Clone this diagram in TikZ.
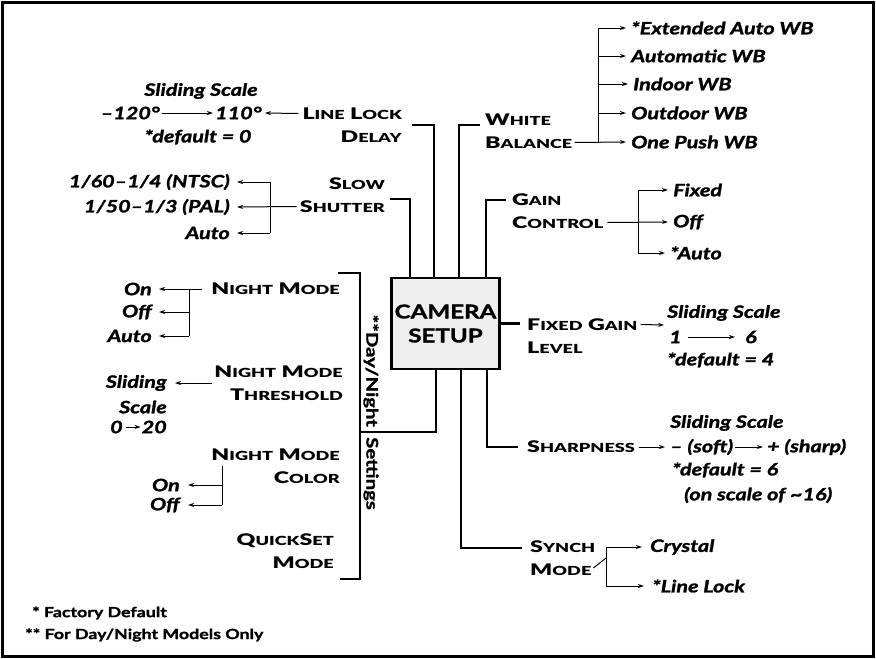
\documentclass[tikz,border=0pt]{standalone}
\usepackage{fontspec}
\setmainfont{Lato}
\newfontfamily\hdrfont{Lato}[FakeStretch=1.45, BoldFont={* Black}]
\newfontfamily\optfont{Lato}[FakeStretch=1.27, BoldFeatures={FakeBold=1.5}, BoldItalicFeatures={FakeBold=1.5}]
\usetikzlibrary{arrows.meta,positioning}

\newcommand{\sca}[2]{#1{\fontsize{12.5}{12.5}\selectfont #2}}

\begin{document}
\begin{tikzpicture}[x=1pt, y=-1pt,
    hdr/.style={inner sep=0pt, font=\hdrfont\fontsize{16}{23}\selectfont\bfseries},
    opt/.style={inner sep=0pt, font=\optfont\fontsize{17}{20}\selectfont\bfseries\itshape},
    note/.style={inner sep=0pt, anchor=west, font=\optfont\fontsize{14}{16}\selectfont\bfseries},
    daynight/.style={rotate=-90, inner sep=0pt, font=\optfont\fontsize{16}{16}\selectfont\bfseries},
    camera/.style={rectangle, draw, line width=2.4pt, fill=gray!13,
                   minimum width=105pt, minimum height=91pt, align=center,
                   font=\optfont\fontsize{19}{24}\selectfont\bfseries},
    conn/.style={line width=2.6pt},
    twig/.style={line width=1pt},
    link/.style={twig, -{Stealth[length=6pt,width=4pt]}}
]
    \useasboundingbox (0,0) rectangle (876,659);
    \draw[line width=2.5pt] (2.5,2.5) rectangle (873.5,656.5);

    \node[camera] (cam) at (445.5,323.5) {CAMERA\\SETUP};

    % Line lock delay
    \node[hdr, anchor=east, align=right] (lld) at (402,125) {\sca{L}{INE} \sca{L}{OCK}\\\sca{D}{ELAY}};
    \node[opt]              (lldtop) at (201,91)  {Sliding Scale};
    \node[opt, anchor=east] (lldlo)  at (160,113) {–120°};
    \node[opt, anchor=west] (lldhi)  at (215,113) {110°};
    \node[opt]              (llddef) at (198,137) {*default = 0};
    \draw[conn] ([xshift=10pt]lld.east) -| ([xshift=-11.5pt]cam.north);
    \draw[link] ([xshift=-4pt,yshift=11.5pt]lld.west) -- ([xshift=3pt]lldhi.east);
    \draw[link] ([xshift=2pt]lldlo.east) -- ([xshift=-2pt]lldhi.west);

    % Slow shutter
    \node[hdr, anchor=east, align=right] (ss) at (385,195) {\sca{S}{LOW}\\\sca{S}{HUTTER}};
    \node[opt, anchor=east] (ss1) at (230,182) {1/60–1/4 (NTSC)};
    \node[opt, anchor=east] (ss2) at (230,207) {1/50–1/3 (PAL)};
    \node[opt, anchor=east] (ss3) at (230,233) {Auto};
    \draw[conn] ([xshift=5pt,yshift=-4pt]ss.east) -| ([xshift=-35.5pt]cam.north);
    \draw[link] ([xshift=-3pt,yshift=-11.5pt]ss.west) -- ([xshift=7pt]ss2.east);
    \draw[twig] (270,0 |- ss1.east) -- (270,0 |- ss3.east);
    \foreach \n in {1,3}
        \draw[link] (270,0 |- ss\n.east) -- ([xshift=7pt]ss\n.east);

    % White balance
    \node[hdr, anchor=west, align=left] (wb) at (485,131) {\sca{W}{HITE}\\\sca{B}{ALANCE}};
    \node[opt, anchor=west] (wb1) at (631,28)  {*Extended Auto WB};
    \node[opt, anchor=west] (wb2) at (631,56)  {Automatic WB};
    \node[opt, anchor=west] (wb3) at (633,84)  {Indoor WB};
    \node[opt, anchor=west] (wb4) at (631,113) {Outdoor WB};
    \node[opt, anchor=west] (wb5) at (631,142) {One Push WB};
    \draw[conn] ([xshift=-5pt,yshift=6pt]wb.west) -| ([xshift=13.5pt]cam.north);
    \draw[link] ([xshift=2pt,yshift=-11.5pt]wb.east) -- ([xshift=-5pt]wb5.west);
    \draw[twig] (598,0 |- wb1.west) -- (598,0 |- wb5.west);
    \foreach \n in {1,...,4}
        \draw[link] (598,0 |- wb\n.west) -- ([xshift=-5pt]wb\n.west);

    % Gain control
    \node[hdr, anchor=west, align=left] (gc) at (512,211) {\sca{G}{AIN}\\\sca{C}{ONTROL}};
    \node[opt, anchor=west] (gc1) at (673,190) {Fixed};
    \node[opt, anchor=west] (gc2) at (673,222) {Off};
    \node[opt, anchor=west] (gc3) at (670,253) {*Auto};
    \draw[conn] ([xshift=-6pt,yshift=11pt]gc.west) -| ([xshift=40.5pt]cam.north);
    \draw[link] ([xshift=4pt,yshift=-11.5pt]gc.east) -- ([xshift=-5pt]gc2.west);
    \draw[twig] (638,0 |- gc1.west) -- (638,0 |- gc3.west);
    \foreach \n in {1,3}
        \draw[link] (638,0 |- gc\n.west) -- ([xshift=-5pt]gc\n.west);

    % Fixed gain level
    \node[hdr, anchor=west, align=left] (fg) at (527,336) {\sca{F}{IXED} \sca{G}{AIN}\\\sca{L}{EVEL}};
    \node[opt, anchor=west] (fg1)  at (667,313) {Sliding Scale};
    \node[opt, anchor=west] (fglo) at (669,337) {1};
    \node[opt, anchor=west] (fghi) at (745,337) {6};
    \node[opt, anchor=west] (fg3)  at (667,360) {*default = 4};
    \draw[conn, shorten >=7pt] (cam.east) -- (cam.east -| fg.west);
    \draw[link] ([xshift=3pt,yshift=11.5pt]fg.east) -- ([xshift=-3pt,yshift=-12pt]fg1.west);
    \draw[link] ([xshift=6pt]fglo.east) -- ([xshift=-10pt]fghi.west);

    % Sharpness
    \node[hdr, anchor=west] (sh) at (527,447) {\sca{S}{HARPNESS}};
    \node[opt, anchor=west] (sh1)  at (670,423) {Sliding Scale};
    \node[opt, anchor=west] (shlo) at (670,447) {– (soft)};
    \node[opt, anchor=west] (shhi) at (767,447) {+ (sharp)};
    \node[opt, anchor=west] (sh3)  at (672,470) {*default = 6};
    \node[opt, anchor=west] (sh4)  at (684,495) {(on scale of \textasciitilde 16)};
    \draw[conn] ([xshift=-9pt]sh.west) -| ([xshift=41.5pt]cam.south);
    \draw[link] ([xshift=4pt]sh.east) -- ([xshift=-5pt]shlo.west);
    \draw[link] ([xshift=2pt]shlo.east) -- ([xshift=-4pt]shhi.west);

    % Synch mode
    \node[hdr, anchor=west, align=left] (sm) at (530,558) {\sca{S}{YNCH}\\\sca{M}{ODE}};
    \node[opt, anchor=west] (sm1) at (650,547) {Crystal};
    \node[opt, anchor=west] (sm2) at (652,586) {*Line Lock};
    \draw[conn] ([xshift=-8pt,yshift=10pt]sm.west) -| ([xshift=15.5pt]cam.south);
    \draw[twig] ([xshift=-2pt,yshift=-10pt]sm.east) -- (606,0 |- sm.east);
    \draw[twig] (606,0 |- sm1.west) -- (606,0 |- sm2.west);
    \foreach \n in {1,2}
        \draw[link] (606,0 |- sm\n.west) -- ([xshift=-8pt]sm\n.west);

    % Day/Night settings
    \coordinate (dntop)  at (338,273);
    \coordinate (dnbot)  at (340,579);
    \coordinate (dnjoin) at (360,432);
    \draw[conn] (dntop) -| (360,0 |- dnbot) -- (dnbot);
    \draw[conn] ([xshift=-9.5pt]cam.south) |- (dnjoin);
    \node[daynight, anchor=east] (dn1) at (371,427) {**Day/Night};
    \node[daynight, anchor=west] (dn2) at (371,437) {Settings};

    % Night mode
    \node[hdr, anchor=east] (nm) at (340,289) {\sca{N}{IGHT} \sca{M}{ODE}};
    \node[opt, anchor=east] (nm1) at (152,289) {On};
    \node[opt, anchor=east] (nm2) at (152,312) {Off};
    \node[opt, anchor=east] (nm3) at (152,336) {Auto};
    \draw[link] ([xshift=-9pt]nm.west) -- ([xshift=7pt]nm1.east);
    \draw[twig] (189,0 |- nm1.east) -- (189,0 |- nm3.east);
    \foreach \n in {2,3}
        \draw[link] (189,0 |- nm\n.east) -- ([xshift=7pt]nm\n.east);

    % Night mode threshold
    \node[hdr, anchor=east, align=right] (nt) at (343,383) {\sca{N}{IGHT} \sca{M}{ODE}\\\sca{T}{HRESHOLD}};
    \node[opt, anchor=east] (nt1)  at (167,383) {Sliding};
    \node[opt, anchor=east] (nt2)  at (167,407) {Scale};
    \node[opt, anchor=west] (ntlo) at (110,427) {0};
    \node[opt, anchor=east] (nthi) at (167,427) {20};
    \draw[link] ([xshift=-2pt]nt.west) -- ([xshift=8pt]nt1.east);
    \draw[link] ([xshift=3pt]ntlo.east) -- ([xshift=-1pt]nthi.west);

    % Night mode color
    \node[hdr, anchor=east, align=right] (nc) at (340,466) {\sca{N}{IGHT} \sca{M}{ODE}\\\sca{C}{OLOR}};
    \node[opt, anchor=east] (nc1) at (180,485) {On};
    \node[opt, anchor=east] (nc2) at (180,505) {Off};
    \draw[twig] (222,0 |- nc.west) -- (222,0 |- nc2.east);
    \foreach \n in {1,2}
        \draw[link] (222,0 |- nc\n.east) -- ([xshift=8pt]nc\n.east);

    % QuickSet mode
    \node[hdr, anchor=east, align=right] (qs) at (334,551) {\sca{Q}{UICK}\sca{S}{ET}\\\sca{M}{ODE}};

    % Footnotes
    \node[note] (fn1) at (32,613) {* Factory Default};
    \node[note] (fn2) at (25,635) {** For Day/Night Models Only};
\end{tikzpicture}
\end{document}
